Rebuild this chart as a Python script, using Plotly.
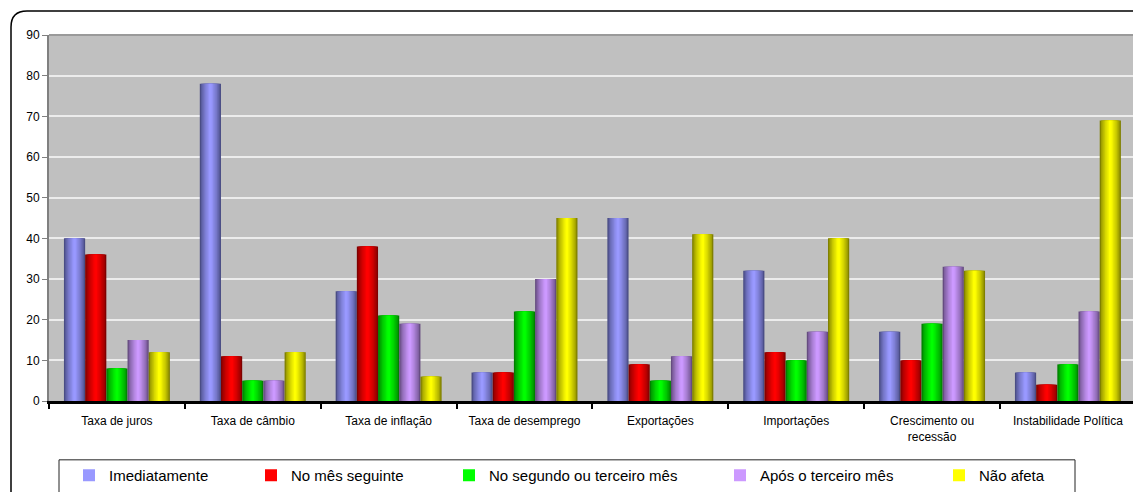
import plotly.graph_objects as go

categories = ["Taxa de juros", "Taxa de câmbio", "Taxa de inflação", "Taxa de desemprego",
              "Exportações", "Importações", "Crescimento ou<br>recessão", "Instabilidade Política"]

series_names = ["Imediatamente", "No mês seguinte", "No segundo ou terceiro mês",
                "Após o terceiro mês", "Não afeta"]

imediatamente = [40, 78, 27, 7, 45, 32, 17, 7]
mes_seguinte = [36, 11, 38, 7, 9, 12, 10, 4]
segundo_terceiro = [8, 5, 21, 22, 5, 10, 19, 9]
apos_terceiro = [15, 5, 19, 30, 11, 17, 33, 22]
nao_afeta = [12, 12, 6, 45, 41, 40, 32, 69]

series_values = [imediatamente, mes_seguinte, segundo_terceiro, apos_terceiro, nao_afeta]

light = [(0x99, 0x99, 0xFF), (0xFF, 0x00, 0x00), (0x00, 0xFF, 0x00), (0xCC, 0x99, 0xFF), (0xFF, 0xFF, 0x00)]
dark = [(0x4A, 0x4D, 0x85), (0x80, 0x00, 0x00), (0x00, 0x80, 0x00), (0x66, 0x4C, 0x80), (0x80, 0x80, 0x00)]

W, H = 1133, 492
L, R, T, B = 49, 0, 35, 90
PW = W - L - R
PH = H - T - B


def px(x):
    return (x - L) / PW


def py(y):
    return (H - B - y) / PH


def mix(c1, c2, t):
    return "rgb(%d,%d,%d)" % tuple(round(a + (b - a) * t) for a, b in zip(c1, c2))


fig = go.Figure()

group_start = -0.390
bw = 0.156
n_layers = 8
legend_ids = ["legend", "legend2", "legend3", "legend4", "legend5"]

for s, (name, vals) in enumerate(zip(series_names, series_values)):
    for k in range(n_layers):
        f = 1 - k / n_layers
        t = (k / (n_layers - 1)) ** 0.7
        w = bw * f
        off = group_start + s * bw + (bw - w) / 2
        last = k == n_layers - 1
        fig.add_trace(go.Bar(
            x=categories, y=vals, name=name,
            width=[w] * len(categories), offset=off,
            marker=dict(color=mix(dark[s], light[s], t), line=dict(width=0)),
            showlegend=last, legend=legend_ids[s],
            hoverinfo="skip" if not last else None,
        ))

text_starts = [109, 291, 489, 760, 979]
legend_font = dict(family="Liberation Sans, Arial, sans-serif", size=15, color="#000")
legend_layouts = {}
for i, lid in enumerate(legend_ids):
    legend_layouts[lid] = dict(
        x=px(text_starts[i] - 40), xanchor="left",
        y=py(477), yanchor="middle",
        orientation="h", bgcolor="rgba(0,0,0,0)", borderwidth=0,
        font=legend_font, itemclick=False, itemdoubleclick=False,
    )

shapes = [
    # top border line of plot area
    dict(type="line", xref="paper", yref="paper", x0=0, x1=1.01, y0=1, y1=1,
         line=dict(color="#9A9A9A", width=2)),
    # legend box
    dict(type="rect", xref="paper", yref="paper", x0=px(59), x1=px(1075), y0=py(461), y1=py(500),
         line=dict(color="#222", width=1)),
    # outer rounded border
    dict(type="path", xref="paper", yref="paper",
         path="M %f,%f L %f,%f Q %f,%f %f,%f L %f,%f" % (
             px(11), py(500), px(11), py(27), px(11), py(11), px(27), py(11), px(1140), py(11)),
         line=dict(color="#000", width=1.5)),
]

fig.update_layout(
    width=W, height=H,
    margin=dict(l=L, r=R, t=T, b=B, pad=0),
    paper_bgcolor="white", plot_bgcolor="#C0C0C0",
    barmode="overlay",
    font=dict(family="Liberation Sans, Arial, sans-serif", size=12, color="#000"),
    shapes=shapes,
    hovermode=False,
    **legend_layouts,
)

fig.update_xaxes(
    type="category", range=[-0.5, 7.479],
    showline=True, linecolor="#000", linewidth=3,
    ticks="outside", tickson="boundaries", ticklen=5, tickwidth=2, tickcolor="#000",
    ticklabelstandoff=7,
    showgrid=False, tickfont=dict(size=12, color="#000"), fixedrange=True,
)
fig.update_yaxes(
    range=[0, 90], dtick=10,
    showline=True, linecolor="#808080", linewidth=2,
    ticks="outside", ticklen=5, tickcolor="#808080", tickwidth=1,
    showgrid=True, gridcolor="#ECECEC", gridwidth=1.5,
    zeroline=False, tickfont=dict(size=12, color="#000"), fixedrange=True,
)

fig.write_html("out.html")
